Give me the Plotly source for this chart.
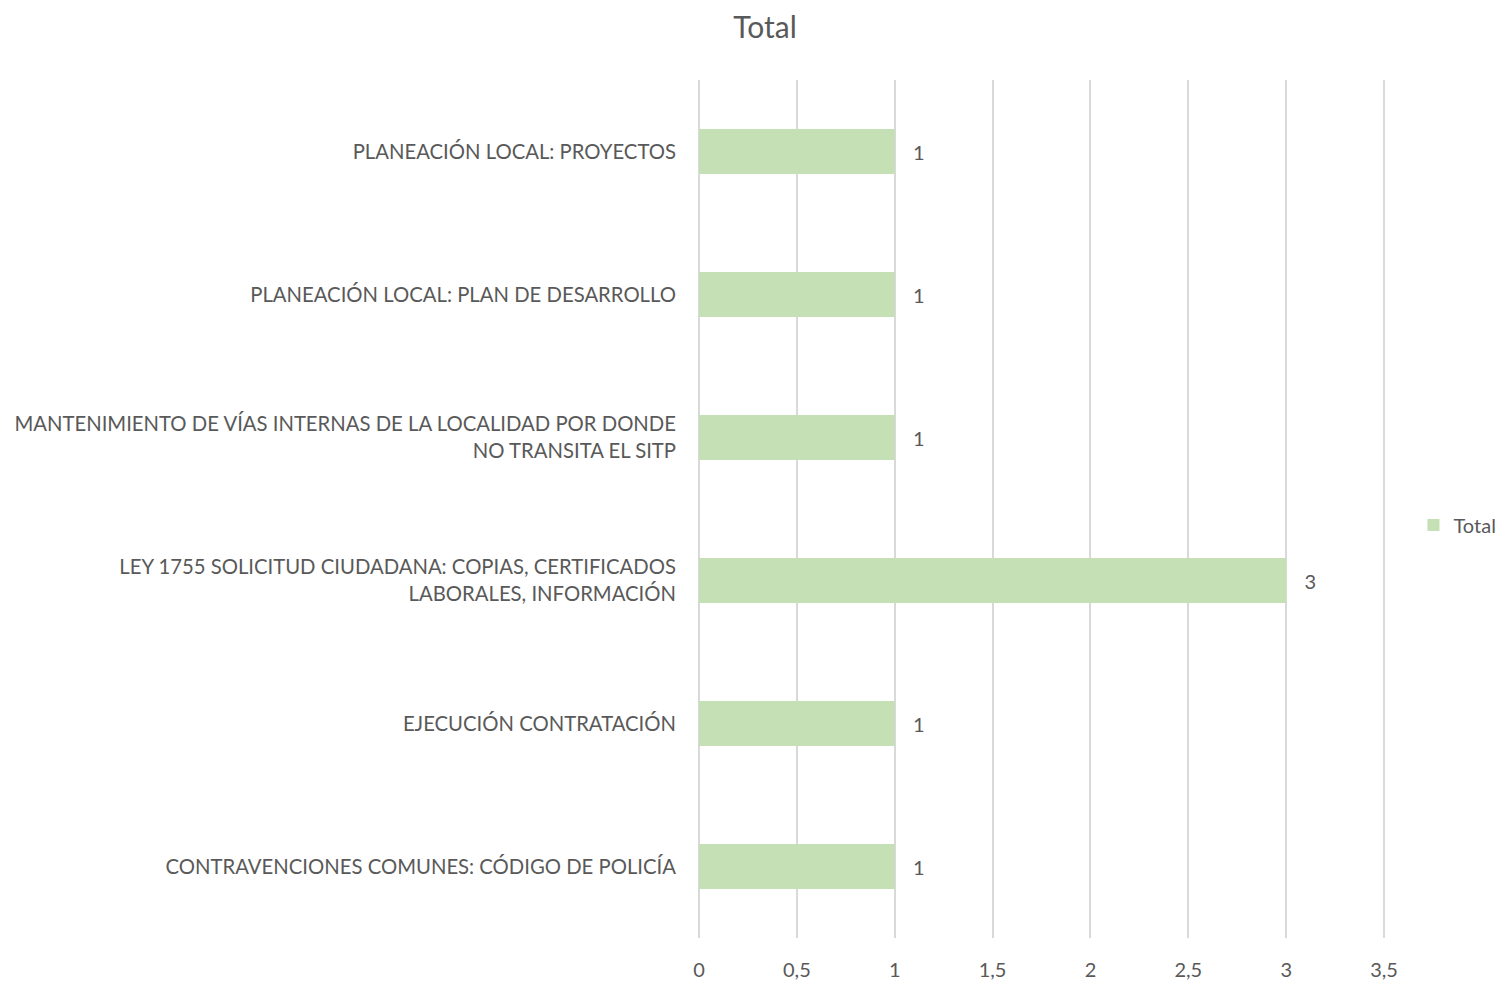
import plotly.graph_objects as go

categories = [
    "CONTRAVENCIONES COMUNES: CÓDIGO DE POLICÍA",
    "EJECUCIÓN CONTRATACIÓN",
    "LEY 1755 SOLICITUD CIUDADANA: COPIAS, CERTIFICADOS<br>LABORALES, INFORMACIÓN",
    "MANTENIMIENTO DE VÍAS INTERNAS DE LA LOCALIDAD POR DONDE<br>NO TRANSITA EL SITP",
    "PLANEACIÓN LOCAL: PLAN DE DESARROLLO",
    "PLANEACIÓN LOCAL: PROYECTOS",
]
values = [1, 1, 3, 1, 1, 1]
x_ticks = [0, 0.5, 1, 1.5, 2, 2.5, 3, 3.5]

FONT = "Lato"
TXT = "#595959"
PAD = "\u00a0\u00a0\u00a0"

fig = go.Figure(
    go.Bar(
        y=categories,
        x=values,
        orientation="h",
        name="Total",
        marker=dict(color="#c5e0b4", line=dict(width=0)),
        width=0.315,
        text=[PAD + str(v) for v in values],
        textposition="outside",
        textfont=dict(family=FONT, size=20, color=TXT),
        cliponaxis=False,
        showlegend=True,
    )
)

fig.update_layout(
    width=1504,
    height=973,
    paper_bgcolor="white",
    plot_bgcolor="white",
    separators=", ",
    margin=dict(l=691, r=124, t=72, b=43, autoexpand=False),
    font=dict(family=FONT, color=TXT, size=20),
    title=dict(
        text="Total",
        xref="container",
        yref="container",
        x=0.5033,
        xanchor="center",
        y=0.98,
        yanchor="middle",
        automargin=False,
        font=dict(family=FONT, size=30, color=TXT),
    ),
    xaxis=dict(
        range=[0, 3.52],
        tickvals=x_ticks,
        showgrid=True,
        gridcolor="#d9d9d9",
        gridwidth=2,
        zeroline=True,
        zerolinecolor="#d9d9d9",
        zerolinewidth=2,
        showline=False,
        ticks="",
        ticklabelstandoff=18,
        automargin=False,
        tickfont=dict(family=FONT, size=20, color=TXT),
    ),
    yaxis=dict(
        showgrid=False,
        zeroline=False,
        showline=False,
        ticks="",
        ticklabelstandoff=22,
        automargin=False,
        tickfont=dict(family=FONT, size=20.3, color=TXT),
    ),
    legend=dict(
        xref="container",
        yref="container",
        x=0.9345,
        xanchor="left",
        y=0.4687,
        yanchor="middle",
        font=dict(family=FONT, size=20, color=TXT),
        itemwidth=30,
        bgcolor="rgba(0,0,0,0)",
    ),
    bargap=0.685,
)

fig.write_html("out.html")
